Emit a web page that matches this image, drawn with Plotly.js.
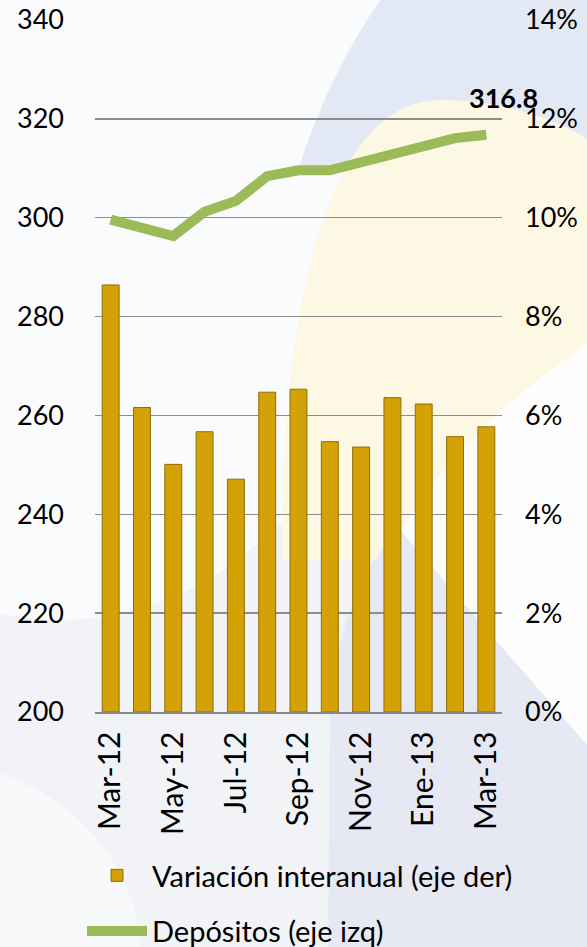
<!DOCTYPE html>
<html>
<head>
<meta charset="utf-8">
<script src="https://cdn.plot.ly/plotly-3.0.1.min.js"></script>
<style>html,body{margin:0;padding:0;background:#f2f4f8;}#chart{width:587px;height:947px;}</style>
</head>
<body>
<div id="chart"></div>
<script>
var categories = ["Mar-12","Abr-12","May-12","Jun-12","Jul-12","Ago-12","Sep-12","Oct-12","Nov-12","Dic-12","Ene-13","Feb-13","Mar-13"];
var variacion = [8.64, 6.16, 5.01, 5.67, 4.71, 6.47, 6.53, 5.47, 5.36, 6.36, 6.23, 5.57, 5.77];
var depositos = [299.6, 297.8, 296.3, 301.2, 303.4, 308.4, 309.6, 309.6, 311.3, 313.2, 314.4, 316.1, 316.8];
var tickLabels = ["Mar-12","May-12","Jul-12","Sep-12","Nov-12","Ene-13","Mar-13"];
var lastLabel = "316.8";

// plot area in figure pixels
var L = 95, R = 502, T = 20, B = 712;
function px(x){ return (x - L) / (R - L); }
function py(y){ return (B - y) / (B - T); }

var FONT = "Lato, 'Open Sans', sans-serif";

var traces = [
  {
    type: "bar", name: "Variación interanual (eje der)",
    x: categories, y: variacion, yaxis: "y2",
    marker: {color: "#d4a106", line: {color: "#8f6e05", width: 1}},
    legendgroup: "a", hoverinfo: "skip"
  },
  {
    type: "scatter", mode: "lines", name: "Depósitos (eje izq)",
    x: categories, y: depositos, yaxis: "y",
    line: {color: "#9bbb59", width: 10},
    legendgroup: "b", hoverinfo: "skip"
  }
];

// background decoration, given in figure pixels and converted to paper units
function P(cmds){
  return cmds.map(function(c){
    if (typeof c === "string") return c;
    return px(c[0]).toFixed(4) + "," + py(c[1]).toFixed(4);
  }).join(" ");
}
function pathShape(cmds, fill){
  return {type:"path", xref:"paper", yref:"paper", layer:"below",
    path:P(cmds), fillcolor:fill, line:{width:0}};
}
function ell(x0, x1, y0, y1, fill){
  return {type:"circle", xref:"paper", yref:"paper", layer:"below",
    x0:px(x0), x1:px(x1), y0:py(y1), y1:py(y0), fillcolor:fill, line:{width:0}};
}
var shapes = [
  ell(-300, 420, -300, 620, "#fafbfd"),
  ell(-300, 140, 760, 1150, "#f8f9fb"),
  pathShape(["M",[384,-5],"Q",[330,70],[298,170],"L",[600,170],"L",[600,-5],"Z"], "#e2e8f4"),
  pathShape(["M",[282,560],"C",[280,300],[330,100],[440,100],"C",[500,100],[560,118],[600,148],"L",[600,560],"Z"], "#fcf8e4"),
  pathShape(["M",[400,530],"Q",[470,420],[600,335],"L",[600,760],"Z"], "#fdfdfe"),
  pathShape(["M",[328,960],"L",[330,700],"Q",[345,580],[400,530],"L",[600,760],"L",[600,960],"Z"], "#e6e9f4")
];

var layout = {
  width: 587, height: 947,
  margin: {l: L, r: 587 - R, t: T, b: 947 - B, pad: 0, autoexpand: false},
  paper_bgcolor: "#f1f3f7",
  plot_bgcolor: "rgba(0,0,0,0)",
  font: {family: FONT, size: 27, color: "#000"},
  bargap: 0.46,
  showlegend: true,
  xaxis: {
    type: "category", range: [-0.5, categories.length - 0.5],
    tickmode: "array", tickvals: tickLabels, ticktext: tickLabels,
    tickangle: -90, showline: true, linecolor: "#888", linewidth: 1.5,
    ticks: "", showgrid: false, tickfont: {size: 30, family: FONT}, fixedrange: true,
    automargin: false, ticklabelstandoff: 6
  },
  yaxis: {
    range: [200, 340], dtick: 20, tick0: 200, showgrid: true, gridcolor: "#8c8c8c",
    gridwidth: 1.3, zeroline: false, showline: false, ticks: "",
    ticklabelstandoff: 30, tickfont: {size: 27, family: FONT}, fixedrange: true,
    automargin: false
  },
  yaxis2: {
    overlaying: "y", side: "right", range: [0, 14], dtick: 2, tick0: 0,
    ticksuffix: "%", showgrid: false, zeroline: false, showline: false, ticks: "",
    ticklabelstandoff: 22, tickfont: {size: 27, family: FONT}, fixedrange: true,
    automargin: false
  },
  legend: {
    x: px(82), y: py(850), xanchor: "left", yanchor: "top",
    orientation: "v", traceorder: "grouped", tracegroupgap: 15,
    bgcolor: "rgba(0,0,0,0)", font: {size: 29, family: FONT},
    itemwidth: 60
  },
  annotations: [
    {x: categories[categories.length - 1], y: depositos[depositos.length - 1],
     xref: "x", yref: "y", text: "<b>" + lastLabel + "</b>", showarrow: false,
     xshift: 17, yshift: 37, font: {size: 27, family: FONT, color: "#000"}}
  ],
  shapes: shapes
};

Plotly.newPlot("chart", traces, layout, {displayModeBar: false, staticPlot: true});
</script>
</body>
</html>
